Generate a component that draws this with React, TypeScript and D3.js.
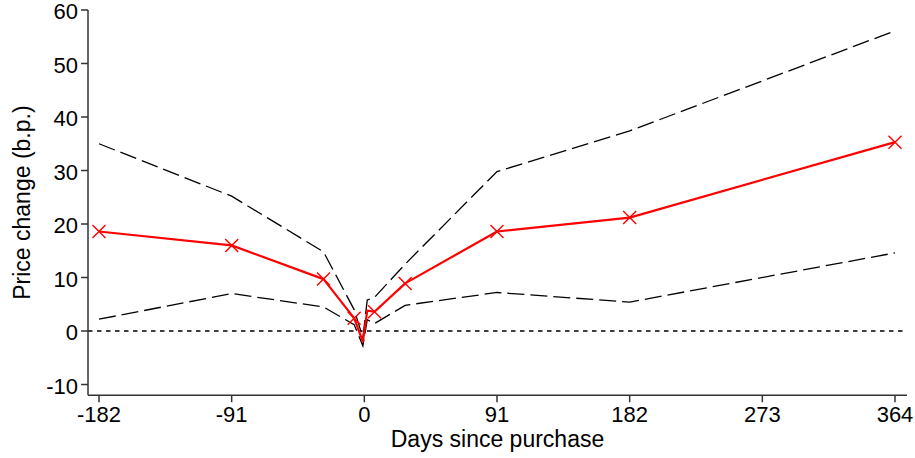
import React from "react";
import * as d3 from "d3";

const days = [-182, -91, -28, -7, -1, 2, 7, 28, 91, 182, 364];
const estimate = [18.6, 16.0, 9.7, 2.4, -2.0, 3.8, 3.6, 8.9, 18.6, 21.2, 35.3];
const upperCI = [35.0, 25.2, 14.8, 4.0, -1.2, 5.8, 6.3, 12.5, 29.8, 37.4, 56.1];
const lowerCI = [2.2, 7.0, 4.5, 1.2, -2.8, 2.1, 1.4, 4.8, 7.2, 5.4, 14.6];
const markerDays = [-182, -91, -28, -7, 7, 28, 91, 182, 364];
const xTicks = [-182, -91, 0, 91, 182, 273, 364];
const yTicks = [-10, 0, 10, 20, 30, 40, 50, 60];

const W = 915;
const H = 458;
const FONT = "'Liberation Sans', Arial, sans-serif";

export default function App() {
  const x = d3.scaleLinear().domain([-182, 364]).range([99, 895]);
  const y = d3.scaleLinear().domain([0, 60]).range([331, 10]);
  const xLeft = 88;
  const xRight = 907;
  const yBottom = y(-12);
  const yTop = y(60);

  const pts = (vals: number[]) => days.map((d, i) => [x(d), y(vals[i])] as [number, number]);
  const line = d3.line<[number, number]>();

  const cross = (cx: number, cy: number, s: number) =>
    `M${cx - s},${cy - s}L${cx + s},${cy + s}M${cx - s},${cy + s}L${cx + s},${cy - s}`;

  return (
    <svg
      width={W}
      height={H}
      style={{ position: "absolute", left: 0, top: 0, display: "block", background: "#fff" }}
    >
      {/* zero line */}
      <line x1={xLeft} x2={xRight} y1={y(0)} y2={y(0)} stroke="#000" strokeWidth={1.4} strokeDasharray="4.5,4.5" />
      {/* CI lines */}
      <path d={line(pts(upperCI)) || ""} fill="none" stroke="#000" strokeWidth={1.3} strokeDasharray="17,6" />
      <path d={line(pts(lowerCI)) || ""} fill="none" stroke="#000" strokeWidth={1.3} strokeDasharray="17,6" />
      {/* estimate */}
      <path d={line(pts(estimate)) || ""} fill="none" stroke="#ff0000" strokeWidth={2.2} strokeLinejoin="round" />
      {markerDays.map((d) => {
        const i = days.indexOf(d);
        return (
          <path key={d} d={cross(x(d), y(estimate[i]), 6.5)} stroke="#ff0000" strokeWidth={1.4} fill="none" />
        );
      })}
      {/* axes */}
      <line x1={xLeft} x2={xLeft} y1={yTop} y2={yBottom} stroke="#333" strokeWidth={1.5} />
      <line x1={xLeft} x2={xRight} y1={yBottom} y2={yBottom} stroke="#333" strokeWidth={1.5} />
      {yTicks.map((t) => (
        <g key={t}>
          <line x1={xLeft - 7} x2={xLeft} y1={y(t)} y2={y(t)} stroke="#333" strokeWidth={1.5} />
          <text x={xLeft - 10} y={y(t)} dy="0.42em" textAnchor="end" fontFamily={FONT} fontSize={22} fill="#000">
            {t}
          </text>
        </g>
      ))}
      {xTicks.map((t) => (
        <g key={t}>
          <line x1={x(t)} x2={x(t)} y1={yBottom} y2={yBottom + 7} stroke="#333" strokeWidth={1.5} />
          <text x={x(t)} y={421.5} textAnchor="middle" fontFamily={FONT} fontSize={22} fill="#000">
            {t}
          </text>
        </g>
      ))}
      <text x={(xLeft + xRight) / 2} y={447} textAnchor="middle" fontFamily={FONT} fontSize={23} fill="#000">
        Days since purchase
      </text>
      <text
        transform={`translate(30,${(yTop + yBottom) / 2}) rotate(-90)`}
        textAnchor="middle"
        fontFamily={FONT}
        fontSize={23}
        fill="#000"
      >
        Price change (b.p.)
      </text>
    </svg>
  );
}
